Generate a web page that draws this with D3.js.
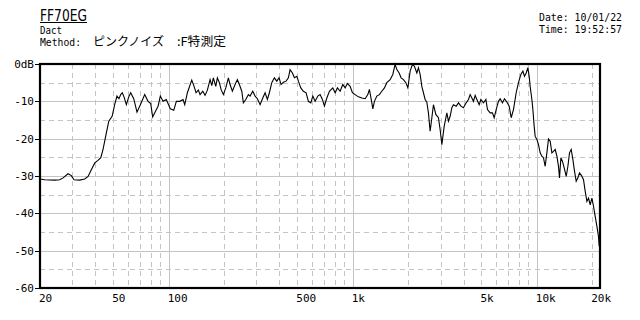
<!DOCTYPE html>
<html><head><meta charset="utf-8">
<script src="https://cdn.jsdelivr.net/npm/d3@7"></script>
<style>body{margin:0;background:#fff}svg{display:block}</style>
</head><body><svg id="c" width="640" height="320"></svg>
<script>
const freqHz=[20,21.2,24.0,25.6,26.7,28.4,29.6,30.6,32.9,35.0,36.5,38.0,39.7,41.3,42.8,44.0,45.9,47.3,49.3,50.9,52.4,53.7,54.9,56.0,57.2,58.9,60.7,62.2,64.6,67.3,70.2,74.1,77.3,79.9,81.9,84.7,87.6,90.1,93.2,97.1,102.1,106.6,110.1,114.9,119.7,122.3,126.4,
133.5,137.4,140.9,145.0,148.1,153.2,157.7,162.3,167.9,171.5,174.9,180.3,183.9,188.6,192.6,198.3,204.3,211.1,215.6,221.9,229.5,236.2,242.2,249.6,254.6,262.4,271.1,276.9,286.4,294.8,303.4,313.8,324.6,334.1,343.8,352.5,363.3,375.3,386.7,398.0,408.1,420.0,434.5,447.2,456.8,470.2,482.1,496.8,506.8,522.2,539.5,558.1,574.4,591.9,607.0,624.7,646.1,664.9,684.4,701.8,723.3,747.1,
779.6,802.4,825.8,854.0,883.4,909.2,935.8,968.0,996.2,1030,1074,1121,1168,1208,1232,1270,1286,1312,1352,1396,1439,1487,1532,1597,1651,1699,1736,1787,1832,1886,1943,1993,2051,2111,2164,2230,2275,2324,2374,2422,2474,2527,2578,2634,2691,2745,2828,2922,2985,3050,3139,3246,3311,3383,3456,3526,3647,3754,3868,3995,4133,4254,4345,4439,4528,4625,4726,4864,4968,5132,5289,5396,5581,5744,5868,6016,6192,6325,6509,6674,6878,7078,7258,7470,7727,7953,8195,8403,8573,8757,8944,9092,9205,
9404,9522,9679,9800,10012,10214,10433,10656,10872,11107,11345,11575,11823,12079,12324,12588,12860,13118,13284,13520,13794,14090,14448,14758,15056,15380,15710,16028,16372,16726,17062,17496,17940,18324,18720,19100,19504,19926,20328,20764,21210,21640,21830];
const levelDb=[-30.8,-31,-31.1,-31,-30.5,-29.4,-29.9,-31,-31.1,-30.8,-30.1,-28.3,-26.5,-25.8,-25.1,-22.9,-18.4,-15.3,-14,-10.9,-8.6,-9.3,-8.2,-7.7,-8.8,-10.9,-8.8,-7.7,-9.3,-12.9,-10.9,-8.2,-10,-10.6,-14.2,-12.7,-11.3,-8.6,-10,-9.5,-12,-12.4,-10,-10,-9.5,-10.9,-7.7,
-4.3,-6,-7.7,-7,-8.2,-7.3,-8.4,-7,-4.2,-5.8,-3.7,-6,-3.7,-5,-6.8,-8.2,-6.4,-3.7,-5.5,-7.3,-5.5,-4.2,-5.5,-7.3,-10.4,-9.5,-8.2,-8.6,-7.3,-8.6,-9.3,-10.9,-9.1,-7.7,-9.5,-7.7,-5,-3.7,-4.6,-3.7,-5.5,-4.9,-4.6,-3.7,-1.5,-2.4,-3.7,-3.3,-4.6,-6.4,-7.3,-7.7,-10,-10.4,-8.6,-10,-8.6,-8.2,-9.5,-11.3,-9.1,-7.3,
-6.4,-7.7,-6.4,-7.3,-5.5,-6.4,-5.2,-6,-7.7,-8.2,-8.8,-9.1,-9.3,-8.2,-6.8,-10.4,-12,-10,-8.6,-8.2,-7.3,-6.4,-5,-4.2,-2.8,-0.1,-1.5,-2.4,-3.7,-4.2,-5,-6.4,-1.9,-0.1,-0.6,-2.4,-1,-2.8,-6,-7.7,-9.5,-10.2,-13.1,-18,-14.4,-10.9,-13.5,-14.4,-17.6,-21.6,-16.7,-13.1,-15.3,-14,-11.7,-10.9,-11.3,-10.4,-11.3,-11.7,-10.4,-9.5,-8.2,-9.1,-10,-8.4,-9.5,-10.9,-9.5,-10.4,-9.5,-12.2,-13.1,-13.1,-14.4,-12.2,-10,-9.3,-10.4,-9.3,-10.2,-11.3,-14.4,-12.2,-7.7,-5,-2.8,-1.9,-3.3,-2.4,-1,-3.3,-6,
-9.5,-12.2,-16.7,-19.4,-20.2,-21.6,-23.8,-24.7,-25.1,-27.4,-23.8,-20.1,-20.7,-23.8,-23.4,-22.9,-24.7,-27.4,-30.5,-25.1,-26.1,-27.8,-30.1,-27.4,-23.8,-22.9,-25.6,-28.7,-31.4,-30.5,-29.2,-29.9,-31,-34.1,-36.8,-35.9,-37.7,-35.9,-38.1,-40.8,-43.5,-46.2,-48.8];
const xTickValues=[20,50,100,500,1000,5000,10000,20000];
const xTickLabels=["20","50","100","500","1k","5k","10k","20k"];
const yTickValues=[0,-10,-20,-30,-40,-50,-60];
const yTickLabels=["0dB","-10","-20","-30","-40","-50","-60"];
const majorFreqs=[100,1000,10000];
const minorFreqs=[30,40,50,60,70,80,90,200,300,400,500,600,700,800,900,2000,3000,4000,5000,6000,7000,8000,9000,20000];
const majorDb=[-10,-20,-30,-40,-50];
const minorDb=[-5,-15,-25,-35,-45,-55];
const titleText="FF70EG", subText="Dact", methodLabel="Method:", methodName="ピンクノイズ", methodMode=":F特測定";
const dateText="Date: 10/01/22", timeText="Time: 19:52:57";

const svg=d3.select("#c");
const x=d3.scaleLog().domain([20,22050]).range([40,600]);
const y=d3.scaleLinear().domain([-60,0]).range([288,64]);
const px=v=>Math.round(v)+0.5;
const mono="'DejaVu Sans Mono', monospace";
const grid="#c4c4c4";
const g=svg.append("g");
g.selectAll(".vmin").data(minorFreqs).join("line").attr("x1",d=>px(x(d))).attr("x2",d=>px(x(d))).attr("y1",64).attr("y2",288).attr("stroke",grid).attr("stroke-dasharray","5,4");
g.selectAll(".hmin").data(minorDb).join("line").attr("y1",d=>px(y(d))).attr("y2",d=>px(y(d))).attr("x1",40).attr("x2",600).attr("stroke",grid).attr("stroke-dasharray","5,4");
g.selectAll(".vmaj").data(majorFreqs).join("line").attr("x1",d=>px(x(d))).attr("x2",d=>px(x(d))).attr("y1",64).attr("y2",288).attr("stroke",grid);
g.selectAll(".hmaj").data(majorDb).join("line").attr("y1",d=>px(y(d))).attr("y2",d=>px(y(d))).attr("x1",40).attr("x2",600).attr("stroke",grid);

const pts=freqHz.map((f,i)=>[f,levelDb[i]]);
svg.append("path").datum(pts).attr("fill","none").attr("stroke","#000").attr("stroke-width",1.1)
  .attr("d",d3.line().x(d=>x(d[0])).y(d=>y(d[1])));

svg.append("rect").attr("x",40).attr("y",64).attr("width",560).attr("height",224).attr("fill","none").attr("stroke","#000").attr("stroke-width",2.2);

svg.selectAll(".yt").data(yTickValues).join("line").attr("x1",35).attr("x2",40).attr("y1",d=>px(y(d))).attr("y2",d=>px(y(d))).attr("stroke","#000");
svg.selectAll(".yl").data(yTickValues).join("text").attr("x",34).attr("y",d=>y(d)+4).attr("text-anchor","end")
  .attr("font-family",mono).attr("font-size",11).text((d,i)=>yTickLabels[i]);
svg.selectAll(".xl").data(xTickValues).join("text").attr("x",d=>x(d)-1).attr("y",302)
  .attr("font-family",mono).attr("font-size",11).text((d,i)=>xTickLabels[i]);

function txt(s,xx,yy,size,len,fam){
  svg.append("text").attr("x",xx).attr("y",yy).attr("font-family",fam||mono).attr("font-size",size)
    .attr("textLength",len).attr("lengthAdjust","spacingAndGlyphs").text(s);
}
txt(titleText,40,20.7,16,47,"'DejaVu Sans', sans-serif");
svg.append("line").attr("x1",40).attr("x2",87).attr("y1",22.5).attr("y2",22.5).attr("stroke","#000");
txt(subText,40,33.5,11,22);
txt(methodLabel,40,46,11,41);
txt(methodName,93,46,12,71,"'Noto Sans CJK JP', sans-serif");
txt(methodMode,177,46,12,49,"'Noto Sans CJK JP', sans-serif");
txt(dateText,539,20.5,10.5,83);
txt(timeText,539,33,10.5,83);
</script></body></html>
